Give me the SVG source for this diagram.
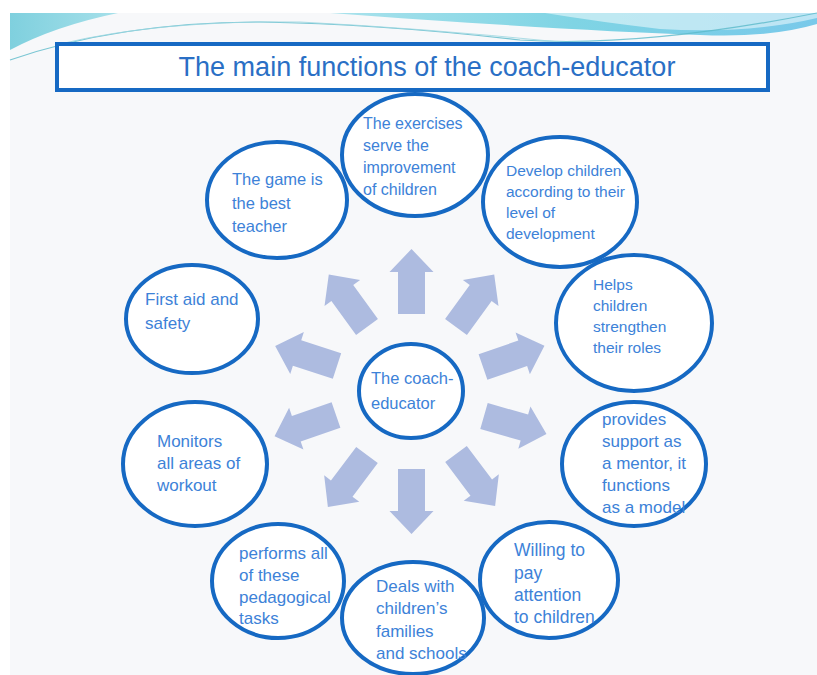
<svg xmlns="http://www.w3.org/2000/svg" width="817" height="675" viewBox="0 0 817 675">
<defs>
<linearGradient id="waveL" x1="0" y1="0" x2="1" y2="0">
<stop offset="0" stop-color="#7fd0de"/><stop offset="1" stop-color="#a6e0ea"/>
</linearGradient>
<linearGradient id="waveR" x1="0" y1="0" x2="1" y2="0">
<stop offset="0" stop-color="#a9e2ec"/><stop offset="0.5" stop-color="#7fd4e4"/><stop offset="1" stop-color="#79c9ea"/>
</linearGradient>
<polygon id="arr" points="0,-13.5 42,-13.5 42,-22 65,0 42,22 42,13.5 0,13.5"/>
</defs>
<style>
.node ellipse{fill:#ffffff;stroke:#1669c3;stroke-width:4}
.node text{font-family:"Liberation Sans",Arial,sans-serif;fill:#3d82d8}
.arrows use{fill:#adbbe0}
.title{font-family:"Liberation Sans",Arial,sans-serif;font-size:27px;fill:#2a6fc5}
</style>
<rect x="0" y="0" width="817" height="675" fill="#ffffff"/>
<rect x="10" y="13" width="807" height="662" fill="#f7f8fa"/>
<!-- top wave -->
<path d="M10,13 L118,13 Q55,26 10,50 Z" fill="url(#waveL)"/>
<path d="M330,13 L817,13 L817,24 Q770,38 700,35 Q560,30 330,13 Z" fill="url(#waveR)"/>
<path d="M545,13 L817,13 L817,18 Q750,34 660,29 Q600,22 545,13 Z" fill="#f4fbfd" opacity="0.55"/>
<path d="M10,60 Q120,22 260,22 Q380,24 520,40 Q640,48 817,13" fill="none" stroke="#5ab9c9" stroke-width="1.2" opacity="0.8"/>
<path d="M60,44 Q160,20 300,22 Q420,28 560,42" fill="none" stroke="#9ad6e0" stroke-width="1" opacity="0.8"/>
<!-- title -->
<g id="title">
<rect x="57" y="44" width="711" height="46" fill="#ffffff" stroke="#1669c3" stroke-width="4"/>
<text class="title" x="427" y="76" text-anchor="middle">The main functions of the coach-educator</text>
</g>
<!-- connectors -->
<g id="connectors" class="arrows">
<use href="#arr" transform="translate(411.5,314) rotate(-90)"/>
<use href="#arr" transform="translate(456,327) rotate(-54)"/>
<use href="#arr" transform="translate(483,367) rotate(-19)"/>
<use href="#arr" transform="translate(484,416) rotate(16)"/>
<use href="#arr" transform="translate(456,454) rotate(53)"/>
<use href="#arr" transform="translate(411.5,469) rotate(90)"/>
<use href="#arr" transform="translate(367,455) rotate(127)"/>
<use href="#arr" transform="translate(336,415) rotate(161)"/>
<use href="#arr" transform="translate(337,366) rotate(-162)"/>
<use href="#arr" transform="translate(367,327) rotate(-126)"/>
</g>
<!-- nodes -->
<g id="n-center" class="node">
<ellipse cx="411" cy="391" rx="52" ry="47"/>
<text font-size="16.5"><tspan x="371" y="384">The coach-</tspan><tspan x="371" y="409">educator</tspan></text>
</g>
<g id="n-exercises" class="node">
<ellipse cx="415" cy="155" rx="73" ry="61"/>
<text font-size="16"><tspan x="363" y="129">The exercises</tspan><tspan x="363" y="151">serve the</tspan><tspan x="363" y="173">improvement</tspan><tspan x="363" y="195">of children</tspan></text>
</g>
<g id="n-develop" class="node">
<ellipse cx="560" cy="202" rx="77" ry="65"/>
<text font-size="15.5"><tspan x="506" y="176">Develop children</tspan><tspan x="506" y="197">according to their</tspan><tspan x="506" y="218">level of</tspan><tspan x="506" y="239">development</tspan></text>
</g>
<g id="n-helps" class="node">
<ellipse cx="634" cy="323" rx="78" ry="68"/>
<text font-size="15.5"><tspan x="593" y="290">Helps</tspan><tspan x="593" y="311">children</tspan><tspan x="593" y="332">strengthen</tspan><tspan x="593" y="353">their roles</tspan></text>
</g>
<g id="n-provides" class="node">
<ellipse cx="634" cy="464" rx="72" ry="62"/>
<text font-size="17"><tspan x="602" y="425">provides</tspan><tspan x="602" y="447">support as</tspan><tspan x="602" y="469">a mentor, it</tspan><tspan x="602" y="491">functions</tspan><tspan x="602" y="513">as a model</tspan></text>
</g>
<g id="n-willing" class="node">
<ellipse cx="549" cy="580" rx="69" ry="58"/>
<text font-size="17.5"><tspan x="514" y="556">Willing to</tspan><tspan x="514" y="579">pay</tspan><tspan x="514" y="601">attention</tspan><tspan x="514" y="623">to children</tspan></text>
</g>
<g id="n-deals" class="node">
<ellipse cx="413" cy="618" rx="71" ry="56"/>
<text font-size="17"><tspan x="376" y="592">Deals with</tspan><tspan x="376" y="614">children’s</tspan><tspan x="376" y="637">families</tspan><tspan x="376" y="659">and schools</tspan></text>
</g>
<g id="n-performs" class="node">
<ellipse cx="278" cy="581" rx="66" ry="57"/>
<text font-size="17"><tspan x="239" y="559">performs all</tspan><tspan x="239" y="581">of these</tspan><tspan x="239" y="603">pedagogical</tspan><tspan x="239" y="624">tasks</tspan></text>
</g>
<g id="n-monitors" class="node">
<ellipse cx="195" cy="464" rx="72" ry="62"/>
<text font-size="17"><tspan x="157" y="447">Monitors</tspan><tspan x="157" y="469">all areas of</tspan><tspan x="157" y="491">workout</tspan></text>
</g>
<g id="n-firstaid" class="node">
<ellipse cx="192" cy="319" rx="66" ry="54"/>
<text font-size="17"><tspan x="145" y="305">First aid and</tspan><tspan x="145" y="329">safety</tspan></text>
</g>
<g id="n-game" class="node">
<ellipse cx="277" cy="200" rx="70" ry="58"/>
<text font-size="16.5"><tspan x="232" y="185">The game is</tspan><tspan x="232" y="209">the best</tspan><tspan x="232" y="232">teacher</tspan></text>
</g>
</svg>
